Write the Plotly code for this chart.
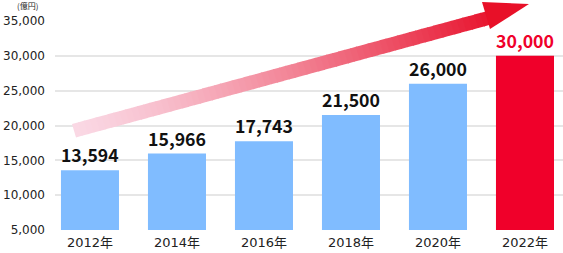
import plotly.graph_objects as go

years = ["2012年", "2014年", "2016年", "2018年", "2020年", "2022年"]
values = [13594, 15966, 17743, 21500, 26000, 30000]
bar_colors = ["#80bcff", "#80bcff", "#80bcff", "#80bcff", "#80bcff", "#f0002a"]
label_colors = ["#111111", "#111111", "#111111", "#111111", "#111111", "#f0002a"]
y_ticks = [5000, 10000, 15000, 20000, 25000, 30000, 35000]

W, H = 563, 253
L, R, T, B = 55, 0, 21, 23
PW, PH = W - L - R, H - T - B

fig = go.Figure()
fig.add_trace(go.Bar(
    x=years, y=values, base=0,
    marker=dict(color=bar_colors, line=dict(width=0)),
    width=0.667,
    text=[f"{v:,}" for v in values],
    textposition="outside",
    textfont=dict(family="Noto Sans CJK JP", size=18, color=label_colors, weight="bold"),
    cliponaxis=False,
    hoverinfo="skip",
))

def px2paper(x, y):
    return (x - L) / PW, (H - B - y) / PH

# gradient arrow body (decoration)
shapes = []
def yt(x):
    return 124 - 0.272 * (x - 72)
thick = 14.5
x0, x1 = 72.0, 486.0
N = 70
c0 = (250, 216, 228)
c1 = (232, 22, 48)
for i in range(N):
    a = x0 + (x1 - x0) * i / N
    b = x0 + (x1 - x0) * (i + 1) / N + 0.8
    t = ((a + b) / 2 - x0) / (x1 - x0)
    t = t ** 1.3
    col = "rgb(%d,%d,%d)" % tuple(round(c0[k] + (c1[k] - c0[k]) * t) for k in range(3))
    pts = [(a, yt(a)), (b, yt(b)), (b + 4, yt(b + 4) + thick), (a + 4, yt(a + 4) + thick)]
    pp = [px2paper(*p) for p in pts]
    path = "M " + " L ".join(f"{p[0]:.5f},{p[1]:.5f}" for p in pp) + " Z"
    shapes.append(dict(type="path", xref="paper", yref="paper", path=path,
                       fillcolor=col, line=dict(width=0), layer="above"))
head = [(482, 2), (490, 29), (529, 4)]
pp = [px2paper(*p) for p in head]
shapes.append(dict(type="path", xref="paper", yref="paper",
                   path="M " + " L ".join(f"{p[0]:.5f},{p[1]:.5f}" for p in pp) + " Z",
                   fillcolor="rgb(232,16,40)", line=dict(width=0), layer="above"))

tickfam = "DejaVu Sans, Noto Sans CJK JP"
fig.update_layout(
    width=W, height=H,
    margin=dict(l=L, r=R, t=T, b=B),
    paper_bgcolor="white", plot_bgcolor="white",
    showlegend=False,
    bargap=0.333,
    shapes=shapes,
    font=dict(family="Noto Sans CJK JP", color="#222222"),
    xaxis=dict(range=[-0.402, 5.437], showgrid=False, showline=False, zeroline=False,
               tickfont=dict(family=tickfam, size=13, color="#222222"), ticklabelstandoff=3,
               fixedrange=True),
    yaxis=dict(range=[5000, 35000], tickvals=y_ticks, tickformat=",",
               showgrid=True, gridcolor="#e6e6e6", gridwidth=2, zeroline=False,
               tickfont=dict(family=tickfam, size=12, color="#222222"), ticklabelstandoff=9,
               fixedrange=True),
    annotations=[dict(text="(億円)", xref="paper", yref="paper", x=-0.055, y=1.072,
                      showarrow=False, font=dict(size=8, color="#222222"),
                      xanchor="center", yanchor="middle")],
)
fig.write_html("out.html")
